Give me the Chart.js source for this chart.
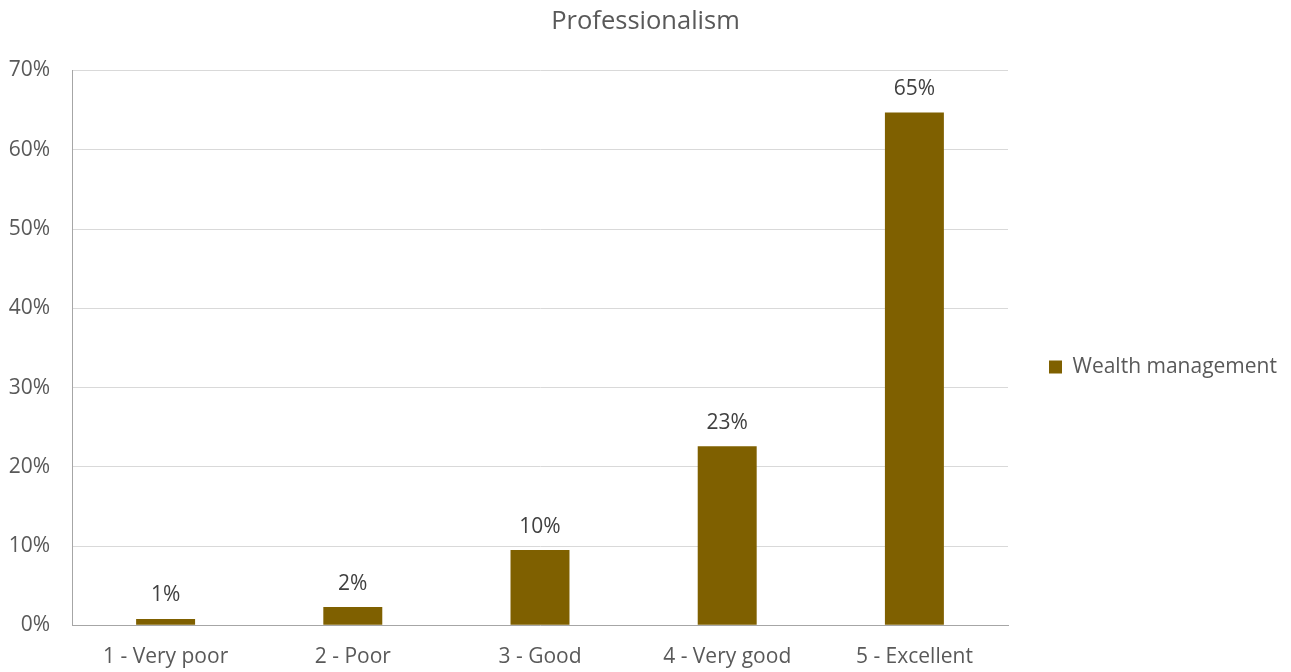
<!DOCTYPE html>
<html>
<head>
<meta charset="utf-8">
<script src="https://cdn.jsdelivr.net/npm/chart.js@4/dist/chart.umd.min.js"></script>
<style>
  html, body { margin: 0; padding: 0; background: #ffffff; }
  #wrap { width: 1291px; height: 672px; }
</style>
</head>
<body>
<div id="wrap"><canvas id="chart" width="1291" height="672"></canvas></div>
<script>
// Survey ratings for professionalism (share of respondents, %)
const categories = ['1 - Very poor', '2 - Poor', '3 - Good', '4 - Very good', '5 - Excellent'];
const wealthManagement = [0.8, 2.3, 9.5, 22.6, 64.7];
const yTicks = [0, 10, 20, 30, 40, 50, 60, 70];

const FONT = '"Open Sans", sans-serif';
const FONT_SIZE = 21;
const TITLE_SIZE = 25.5;
const AXIS_GREY = '#595959';

// Writes the rounded percentage above each bar
const barValueLabels = {
  id: 'barValueLabels',
  afterDatasetsDraw(chart) {
    const { ctx } = chart;
    const meta = chart.getDatasetMeta(0);
    const data = chart.data.datasets[0].data;
    ctx.save();
    ctx.font = FONT_SIZE + 'px ' + FONT;
    ctx.fillStyle = '#404040';
    ctx.textAlign = 'center';
    ctx.textBaseline = 'alphabetic';
    meta.data.forEach((bar, i) => {
      ctx.fillText(Math.round(data[i]) + '%', bar.x, bar.y - 17.5);
    });
    ctx.restore();
  }
};

// Fixed-width legend column on the right, with the entry set a little below centre
const legendPlacement = {
  id: 'legendPlacement',
  beforeLayout(chart) {
    const legend = chart.legend;
    if (!legend || legend._placed) return;
    legend._placed = true;
    const fit = legend.fit;
    legend.fit = function () {
      fit.call(this);
      this.width = 283;
    };
    const draw = legend.draw;
    legend.draw = function () {
      const ctx = this.ctx;
      ctx.save();
      ctx.translate(0, 31);
      draw.apply(this, arguments);
      ctx.restore();
    };
  }
};

new Chart(document.getElementById('chart'), {
  type: 'bar',
  data: {
    labels: categories,
    datasets: [{
      label: 'Wealth management',
      data: wealthManagement,
      backgroundColor: '#7f6000',
      borderWidth: 0,
      barPercentage: 0.315,
      categoryPercentage: 1
    }]
  },
  options: {
    responsive: false,
    animation: false,
    layout: { padding: 0 },
    plugins: {
      title: {
        display: true,
        text: 'Professionalism',
        color: AXIS_GREY,
        font: { family: FONT, size: TITLE_SIZE, weight: 'normal', lineHeight: 1.2 },
        padding: { top: 6.6, bottom: 33.3 }
      },
      legend: {
        position: 'right',
        labels: {
          color: AXIS_GREY,
          font: { family: FONT, size: FONT_SIZE },
          boxWidth: 13,
          boxHeight: 13,
          padding: 41
        }
      },
      tooltip: { enabled: false }
    },
    scales: {
      x: {
        grid: { display: false, drawTicks: false },
        border: { display: true, color: '#a6a6a6', width: 1 },
        ticks: {
          color: AXIS_GREY,
          font: { family: FONT, size: FONT_SIZE },
          padding: 19.5,
          maxRotation: 0
        },
        afterFit(scale) { scale.height = 46.7; }
      },
      y: {
        min: 0,
        max: 70,
        afterBuildTicks(scale) { scale.ticks = yTicks.map(v => ({ value: v })); },
        grid: { color: '#d9d9d9', lineWidth: 1, drawTicks: false },
        border: { display: true, color: '#a6a6a6', width: 1 },
        ticks: {
          color: AXIS_GREY,
          font: { family: FONT, size: FONT_SIZE },
          padding: 22,
          callback: v => v + '%'
        },
        afterFit(scale) { scale.width = 72; }
      }
    }
  },
  plugins: [barValueLabels, legendPlacement]
});
</script>
</body>
</html>
